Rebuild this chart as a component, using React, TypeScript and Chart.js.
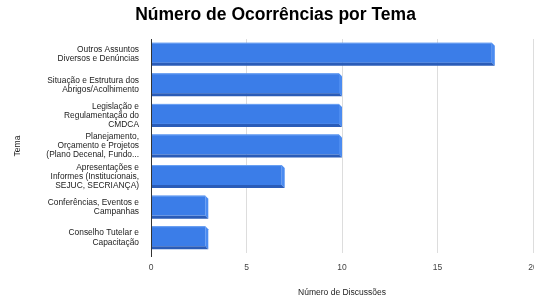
import React, { useEffect, useRef } from "react";
import { Chart, registerables } from "chart.js";

Chart.register(...registerables);

const categories: string[][] = [
  ["Outros Assuntos", "Diversos e Denúncias"],
  ["Situação e Estrutura dos", "Abrigos/Acolhimento"],
  ["Legislação e", "Regulamentação do", "CMDCA"],
  ["Planejamento,", "Orçamento e Projetos", "(Plano Decenal, Fundo..."],
  ["Apresentações e", "Informes (Institucionais,", "SEJUC, SECRIANÇA)"],
  ["Conferências, Eventos e", "Campanhas"],
  ["Conselho Tutelar e", "Capacitação"],
];
const discussions: number[] = [18, 10, 10, 10, 7, 3, 3];
const xTicks: number[] = [0, 5, 10, 15, 20];

const FONT = "'Liberation Sans', Arial, sans-serif";

const bar3d = {
  id: "bar3d",
  afterDatasetsDraw(chart: any) {
    const ctx = chart.ctx;
    const meta = chart.getDatasetMeta(0);
    ctx.save();
    meta.data.forEach((el: any) => {
      const { x, y, base, height } = el.getProps(["x", "y", "base", "height"], true);
      const x0 = base;
      const x1 = x;
      const yt = y - height / 2;
      const yb = y + height / 2;
      const d = 3;
      ctx.fillStyle = "#3b7de8";
      ctx.fillRect(x0, yt, x1 - d - x0, yb - d - yt);
      ctx.fillStyle = "#6da2f3";
      ctx.fillRect(x0, yt, x1 - d - x0, 1);
      ctx.fillStyle = "#4b8bf0";
      ctx.beginPath();
      ctx.moveTo(x1 - d, yt);
      ctx.lineTo(x1, yt + d);
      ctx.lineTo(x1, yb);
      ctx.lineTo(x1 - d, yb - d);
      ctx.closePath();
      ctx.fill();
      ctx.fillStyle = "#2a5cb8";
      ctx.beginPath();
      ctx.moveTo(x0, yb - d);
      ctx.lineTo(x1 - d, yb - d);
      ctx.lineTo(x1, yb);
      ctx.lineTo(x0, yb);
      ctx.closePath();
      ctx.fill();
    });
    const xs = chart.scales.x;
    const area = chart.chartArea;
    const px = Math.round(xs.getPixelForValue(0)) + 0.5;
    ctx.strokeStyle = "#333333";
    ctx.lineWidth = 1;
    ctx.beginPath();
    ctx.moveTo(px, area.top);
    ctx.lineTo(px, area.bottom + 4);
    ctx.stroke();
    ctx.restore();
  },
};

export default function App() {
  const ref = useRef<HTMLCanvasElement>(null);
  useEffect(() => {
    document.body.style.margin = "0";
    document.body.style.overflow = "hidden";
    const chart = new Chart(ref.current as HTMLCanvasElement, {
      type: "bar",
      data: {
        labels: categories,
        datasets: [
          {
            label: "Número de Discussões",
            data: discussions,
            backgroundColor: "rgba(0,0,0,0)",
            borderWidth: 0,
            barThickness: 23,
          },
        ],
      },
      options: {
        indexAxis: "y",
        responsive: false,
        animation: false,
        layout: { autoPadding: false, padding: { left: 18, right: 1, top: 0, bottom: 0 } },
        plugins: {
          legend: { display: false },
          tooltip: { enabled: false },
          title: {
            display: true,
            text: "Número de Ocorrências por Tema",
            color: "#000000",
            font: { family: FONT, size: 17.5, weight: "bold", lineHeight: 1.2 },
            padding: { top: 5, bottom: 13 },
          },
        },
        scales: {
          x: {
            type: "linear",
            min: 0,
            max: 20,
            afterBuildTicks: (s: any) => {
              s.ticks = xTicks.map((v) => ({ value: v }));
            },
            afterFit: (s: any) => {
              s.height = 46;
              s.paddingLeft = 0;
              s.paddingRight = 0;
            },
            ticks: {
              color: "#444444",
              font: { family: FONT, size: 8.5 },
              padding: 10,
              maxRotation: 0,
            },
            grid: {
              drawTicks: false,
              color: (c: any) => (c.tick && c.tick.value === 0 ? "#333333" : "#dddddd"),
            },
            border: { display: false },
            title: {
              display: true,
              text: "Número de Discussões",
              color: "#222222",
              font: { family: FONT, size: 8.5, lineHeight: 1.2 },
              padding: { top: 0, bottom: 1 },
            },
          },
          y: {
            type: "category",
            afterFit: (s: any) => {
              s.width = 133;
            },
            ticks: {
              color: "#222222",
              font: { family: FONT, size: 8.4, lineHeight: 1.08 },
              padding: 12,
              autoSkip: false,
            },
            grid: { display: false, drawTicks: false },
            border: { display: true, color: "#333333" },
            title: {
              display: true,
              text: "Tema",
              color: "#222222",
              font: { family: FONT, size: 8.5, lineHeight: 1.2 },
              padding: { top: -5, bottom: 0 },
            },
          },
        },
      },
      plugins: [bar3d],
    } as any);
    return () => chart.destroy();
  }, []);
  return (
    <div style={{ position: "fixed", left: 0, top: 0, width: 534, height: 299, background: "#ffffff" }}>
      <canvas ref={ref} width={534} height={299} style={{ display: "block", width: 534, height: 299 }} />
    </div>
  );
}
